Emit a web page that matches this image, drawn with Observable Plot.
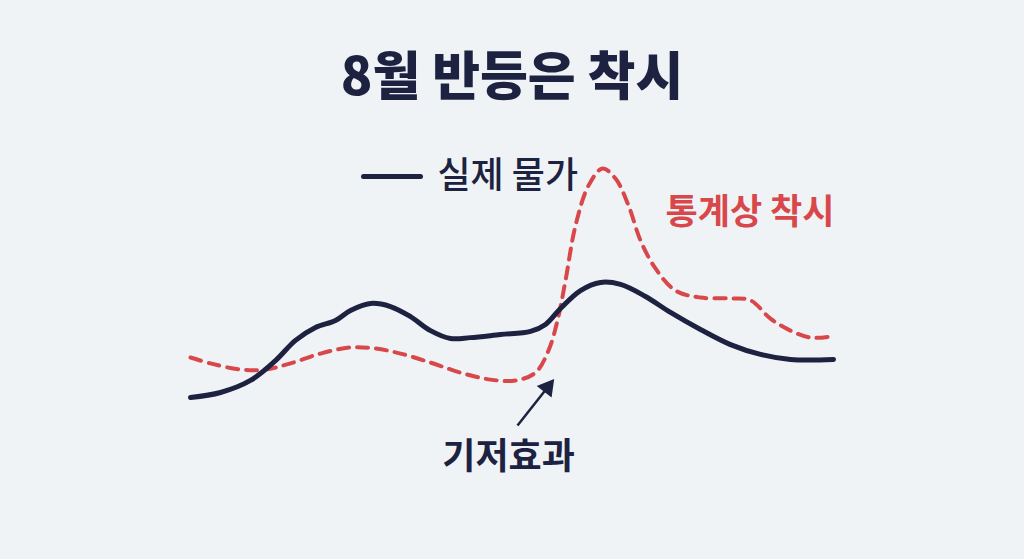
<!DOCTYPE html>
<html><head><meta charset="utf-8">
<script src="https://cdn.jsdelivr.net/npm/d3@7"></script>
<script src="https://cdn.jsdelivr.net/npm/@observablehq/plot@0.6"></script>
<style>
html,body{margin:0;padding:0;background:#f0f3f6;width:1024px;height:559px;overflow:hidden;font-family:"Noto Sans CJK KR","Noto Sans",sans-serif;}
#title{height:130px;line-height:146px;text-align:center;font-size:52px;font-weight:900;color:#1c2240;letter-spacing:0px;}
#chart svg{display:block;}
</style></head>
<body>
<div id="title">8월 반등은 착시</div>
<div id="chart"></div>
<script>
// 실제 물가 (solid navy)
const realX = [0,1.5,3,4.25,5.25,6.25,7.25,8,9,10,11,12,13,14,15.5,17,17.75,18.5,19.5,20.5,21.5,22.75,24,25.5,27,28.5,30,32.15];
const realY = [8.2,10.0,14.3,21.4,28.6,33.2,35.7,39.3,41.8,40.7,37.1,32.1,29.3,29.6,30.7,31.8,34.3,40.0,46.4,49.3,48.6,44.3,38.6,32.5,27.1,23.6,21.8,21.8];
// 통계상 착시 (dashed red)
const statX = [0,1,2.5,3.75,5,6.5,8,9.25,10.5,12,13.5,15,16.25,17.25,17.9,18.35,18.75,19.25,19.9,20.6,21.25,21.9,22.5,23.25,24.25,25.5,27,28,29,30,31,32];
const statY = [22.5,20.4,18.2,18.2,20.4,23.9,26.1,25.7,23.9,20.7,17.1,14.6,14.3,17.1,25.0,35.7,50.0,69.6,83.9,90.0,86.4,76.8,64.3,54.3,46.4,43.9,43.6,42.9,36.4,32.1,29.6,30.0];
// labels
const legendLabel = ["실제 물가"];
const legendPos = [{x1:8.65, x2:11.5, y:87.1, tx:12.35}];
const redLabel = [{x:23.75, y:74.3, text:"통계상 착시"}];
const baseLabel = [{x:15.9, y:-13.2, text:"기저효과"}];
const arrowPts = [{x1:16.35, y1:-1.8, x2:17.85, y2:11.8}];

const real = realX.map((x,i)=>({x, y:realY[i]}));
const stat = statX.map((x,i)=>({x, y:statY[i]}));
const navy = "#1c2240", red = "#d8484b";
const font = '"Noto Sans CJK KR","Noto Sans",sans-serif';

const chart = Plot.plot({
  width:1024, height:429,
  marginLeft:190, marginRight:194, marginTop:10, marginBottom:139,
  x:{domain:[0,32], axis:null},
  y:{domain:[0,100], axis:null},
  style:{background:"transparent", fontFamily:font, overflow:"visible"},
  marks:[
    Plot.line(stat, {x:"x", y:"y", stroke:red, strokeWidth:4, strokeDasharray:"11 8", strokeLinecap:"round", curve:"catmull-rom"}),
    Plot.line(real, {x:"x", y:"y", stroke:navy, strokeWidth:5, strokeLinecap:"round", curve:"catmull-rom"}),
    Plot.link(legendPos, {x1:"x1", x2:"x2", y1:"y", y2:"y", stroke:navy, strokeWidth:5, strokeLinecap:"round"}),
    Plot.text(legendPos, {x:"tx", y:"y", text:()=>legendLabel[0], textAnchor:"start", fontSize:36, fontWeight:500, fill:navy}),
    Plot.text(redLabel, {x:"x", y:"y", text:"text", textAnchor:"start", fontSize:35, fontWeight:700, fill:red}),
    Plot.text(baseLabel, {x:"x", y:"y", text:"text", textAnchor:"middle", fontSize:36, fontWeight:700, fill:navy}),
    Plot.link(arrowPts, {x1:"x1", y1:"y1", x2:"x2", y2:"y2", stroke:navy, strokeWidth:2.5}),
    Plot.dot(arrowPts, {x:"x2", y:"y2", symbol:"triangle", r:7, fill:navy, stroke:"none", rotate:38})
  ]
});
document.getElementById("chart").appendChild(chart);
</script>
</body></html>
